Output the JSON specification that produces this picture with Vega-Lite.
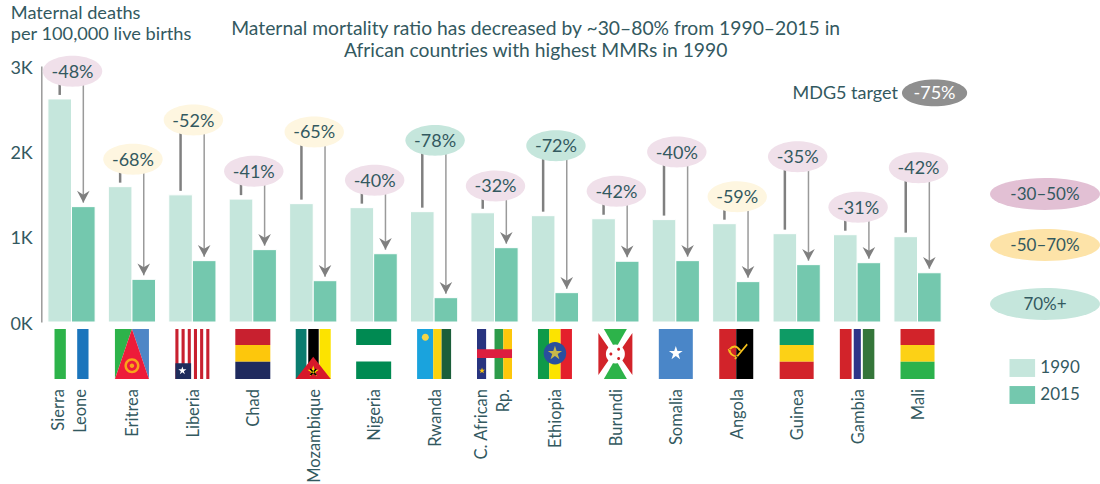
{"$schema":"https://vega.github.io/schema/vega-lite/v6.json","autosize":{"type":"none"},"padding":{"left":41.3,"top":66,"right":31.4,"bottom":162},"width":1027.3,"height":256,"background":"white","config":{"view":{"stroke":null},"font":"Lato","text":{"font":"Lato","color":"#33595f"}},"datasets":{"countries":[{"country":"Sierra Leone","line1":"Sierra","line2":"Leone","1990":2614,"2015":1352,"change":"-48%","tier":"30–50","bubble":2938},{"country":"Eritrea","label":"Eritrea","1990":1586,"2015":500,"change":"-68%","tier":"50–70","bubble":1907},{"country":"Liberia","label":"Liberia","1990":1490,"2015":719,"change":"-52%","tier":"50–70","bubble":2367},{"country":"Chad","label":"Chad","1990":1440,"2015":848,"change":"-41%","tier":"30–50","bubble":1766},{"country":"Mozambique","label":"Mozambique","1990":1387,"2015":484,"change":"-65%","tier":"50–70","bubble":2227},{"country":"Nigeria","label":"Nigeria","1990":1340,"2015":800,"change":"-40%","tier":"30–50","bubble":1661},{"country":"Rwanda","label":"Rwanda","1990":1293,"2015":285,"change":"-78%","tier":"70+","bubble":2129},{"country":"C. African Rp.","line1":"C. African","line2":"Rp.","1990":1280,"2015":871,"change":"-32%","tier":"30–50","bubble":1594},{"country":"Ethiopia","label":"Ethiopia","1990":1246,"2015":344,"change":"-72%","tier":"70+","bubble":2066},{"country":"Burundi","label":"Burundi","1990":1210,"2015":712,"change":"-42%","tier":"30–50","bubble":1532},{"country":"Somalia","label":"Somalia","1990":1200,"2015":719,"change":"-40%","tier":"30–50","bubble":1992},{"country":"Angola","label":"Angola","1990":1152,"2015":473,"change":"-59%","tier":"50–70","bubble":1468},{"country":"Guinea","label":"Guinea","1990":1035,"2015":672,"change":"-35%","tier":"30–50","bubble":1937},{"country":"Gambia","label":"Gambia","1990":1023,"2015":695,"change":"-31%","tier":"30–50","bubble":1344},{"country":"Mali","label":"Mali","1990":1000,"2015":577,"change":"-42%","tier":"30–50","bubble":1808}],"key":[{"slot":"key","name":"-30–50%","tier":"30–50","at":1500},{"slot":"key","name":"-50–70%","tier":"50–70","at":902},{"slot":"key","name":"70%+","tier":"70+","at":211}],"flags":[{"country":"Sierra Leone","part":"SL1"},{"country":"Sierra Leone","part":"SL2"},{"country":"Eritrea","part":"ER1"},{"country":"Eritrea","part":"ER2"},{"country":"Eritrea","part":"ER3"},{"country":"Eritrea","part":"ER4"},{"country":"Eritrea","part":"ER5"},{"country":"Eritrea","part":"ER6"},{"country":"Liberia","part":"LR1"},{"country":"Liberia","part":"LR2"},{"country":"Liberia","part":"LR3"},{"country":"Chad","part":"TD1"},{"country":"Chad","part":"TD2"},{"country":"Chad","part":"TD3"},{"country":"Mozambique","part":"MZ1"},{"country":"Mozambique","part":"MZ2"},{"country":"Mozambique","part":"MZ3"},{"country":"Mozambique","part":"MZ4"},{"country":"Mozambique","part":"MZ5"},{"country":"Mozambique","part":"MZ6"},{"country":"Nigeria","part":"NG1"},{"country":"Rwanda","part":"RW1"},{"country":"Rwanda","part":"RW2"},{"country":"Rwanda","part":"RW3"},{"country":"Rwanda","part":"RW4"},{"country":"C. African Rp.","part":"CF1"},{"country":"C. African Rp.","part":"CF2"},{"country":"C. African Rp.","part":"CF3"},{"country":"C. African Rp.","part":"CF4"},{"country":"C. African Rp.","part":"CF5"},{"country":"Ethiopia","part":"ET1"},{"country":"Ethiopia","part":"ET2"},{"country":"Ethiopia","part":"ET3"},{"country":"Ethiopia","part":"ET4"},{"country":"Ethiopia","part":"ET5"},{"country":"Burundi","part":"BI1"},{"country":"Burundi","part":"BI2"},{"country":"Burundi","part":"BI3"},{"country":"Burundi","part":"BI4"},{"country":"Burundi","part":"BI5"},{"country":"Somalia","part":"SO1"},{"country":"Somalia","part":"SO2"},{"country":"Angola","part":"AO1"},{"country":"Angola","part":"AO2"},{"country":"Angola","part":"AO3"},{"country":"Guinea","part":"GN1"},{"country":"Guinea","part":"GN2"},{"country":"Guinea","part":"GN3"},{"country":"Gambia","part":"GM1"},{"country":"Gambia","part":"GM2"},{"country":"Gambia","part":"GM3"},{"country":"Mali","part":"ML1"},{"country":"Mali","part":"ML2"},{"country":"Mali","part":"ML3"}]},"data":{"name":"countries"},"resolve":{"scale":{"color":"independent","shape":"independent"}},"encoding":{"x":{"field":"country","type":"nominal","axis":null,"sort":null,"scale":{"domain":["Sierra Leone","Eritrea","Liberia","Chad","Mozambique","Nigeria","Rwanda","C. African Rp.","Ethiopia","Burundi","Somalia","Angola","Guinea","Gambia","Mali","gap","key"],"paddingInner":0,"paddingOuter":0}}},"layer":[{"transform":[{"fold":["1990","2015"],"as":["year","deaths"]}],"mark":{"type":"bar","stroke":"white","strokeWidth":1},"encoding":{"xOffset":{"field":"year","type":"nominal","scale":{"domain":["1990","2015"],"paddingInner":0,"paddingOuter":0.28}},"y":{"field":"deaths","type":"quantitative","scale":{"domain":[0,3000],"nice":false},"axis":{"values":[0,1000,2000,3000],"labelExpr":"datum.value/1000+'K'","ticks":false,"grid":false,"domainColor":"#9a9a9a","domainWidth":1.5,"labelFontSize":18,"labelFont":"Lato","labelColor":"#33595f","labelPadding":9,"labelOffset":2,"title":["Maternal deaths","per 100,000 live births"],"titleFont":"Lato","titleFontWeight":"normal","titleFontSize":18.2,"titleColor":"#33595f","titleLineHeight":21,"titleAngle":0,"titleAlign":"left","titleBaseline":"middle","titleX":-31,"titleY":-53}},"color":{"field":"year","type":"nominal","scale":{"domain":["1990","2015"],"range":["#c5e6dc","#74c8ae"]},"legend":{"orient":"none","legendX":968,"legendY":289,"title":null,"symbolType":"M-1 -.7H1V.7H-1Z","symbolSize":655,"symbolStrokeWidth":0,"labelFont":"Lato","labelFontSize":17,"labelColor":"#33595f","labelOffset":5,"rowPadding":5}}}},{"mark":{"type":"rule","color":"#808080","strokeWidth":2.5,"yOffset":-4},"encoding":{"xOffset":{"datum":"1990","type":"nominal","scale":{"domain":["1990","2015"],"paddingInner":0,"paddingOuter":0.28}},"y":{"field":"1990","type":"quantitative"},"y2":{"field":"bubble"}}},{"mark":{"type":"rule","color":"#9a9a9a","strokeWidth":1.5,"yOffset":-4},"encoding":{"xOffset":{"datum":"2015","type":"nominal","scale":{"domain":["1990","2015"],"paddingInner":0,"paddingOuter":0.28}},"y":{"field":"2015","type":"quantitative"},"y2":{"field":"bubble"}}},{"mark":{"type":"point","filled":true,"opacity":1,"color":"#7f7f7f","size":159,"shape":"M0 -.63L-1 -2.5L0 -1.9L1 -2.5Z"},"encoding":{"xOffset":{"datum":"2015","type":"nominal","scale":{"domain":["1990","2015"],"paddingInner":0,"paddingOuter":0.28}},"y":{"field":"2015","type":"quantitative"}}},{"mark":{"type":"point","filled":true,"opacity":1,"size":3528,"shape":"M-1 0A1 .52 0 1 1 1 0A1 .52 0 1 1 -1 0Z","xOffset":1},"encoding":{"y":{"field":"bubble","type":"quantitative"},"color":{"field":"tier","type":"nominal","legend":null,"scale":{"domain":["30–50","50–70","70+"],"range":["#f0e0ea","#fef6e0","#c5e6dc"]}}}},{"mark":{"type":"text","fontSize":18,"xOffset":1,"dy":1.5},"encoding":{"y":{"field":"bubble","type":"quantitative"},"text":{"field":"change"}}},{"transform":[{"filter":"datum.label"}],"mark":{"type":"text","fontSize":16.5,"angle":270,"align":"right","baseline":"middle","xOffset":1.5},"encoding":{"y":{"datum":-785},"text":{"field":"label"}}},{"transform":[{"filter":"datum.line1"}],"mark":{"type":"text","fontSize":16.5,"angle":270,"align":"right","baseline":"middle","xOffset":-12.5},"encoding":{"y":{"datum":-785},"text":{"field":"line1"}}},{"transform":[{"filter":"datum.line2"}],"mark":{"type":"text","fontSize":16.5,"angle":270,"align":"right","baseline":"middle","xOffset":9.5},"encoding":{"y":{"datum":-785},"text":{"field":"line2"}}},{"data":{"name":"flags"},"mark":{"type":"point","filled":true,"opacity":1,"size":2500},"encoding":{"y":{"datum":-375},"shape":{"field":"part","type":"nominal","legend":null,"scale":{"domain":["SL1","SL2","ER1","ER2","ER3","ER4","ER5","ER6","LR1","LR2","LR3","TD1","TD2","TD3","MZ1","MZ2","MZ3","MZ4","MZ5","MZ6","NG1","RW1","RW2","RW3","RW4","CF1","CF2","CF3","CF4","CF5","ET1","ET2","ET3","ET4","ET5","BI1","BI2","BI3","BI4","BI5","SO1","SO2","AO1","AO2","AO3","GN1","GN2","GN3","GM1","GM2","GM3","ML1","ML2","ML3"],"range":["M-.68 -1H-.227V1H-.68Z","M.227 -1H.68V1H.227Z","M-.68 -1H0L-.68 1Z","M.68 -1H0L.68 1Z","M0 -1L.68 1H-.68Z","M-.3 .47A.3 .3 0 1 1 .3 .47A.3 .3 0 1 1 -.3 .47Z","M-.2 .47A.2 .2 0 1 1 .2 .47A.2 .2 0 1 1 -.2 .47Z","M-.09 .47A.09 .09 0 1 1 .09 .47A.09 .09 0 1 1 -.09 .47Z","M-.68 -1H-.556V1H-.68Z M-.433 -1H-.309V1H-.433Z M-.185 -1H-.062V1H-.185Z M.062 -1H.185V1H.062Z M.309 -1H.433V1H.309Z M.556 -1H.68V1H.556Z","M-.68 .37H-.05V1H-.68Z","M-.4 .497L-.362 .614L-.238 .614L-.338 .687L-.3 .805L-.4 .732L-.5 .805L-.462 .687L-.562 .614L-.438 .614Z","M-.7 -1H.7V-.36H-.7Z","M-.7 -.36H.7V.307H-.7Z","M-.7 .307H.7V1H-.7Z","M-.7 -1H-.27V1H-.7Z","M-.2 -1H.22V1H-.2Z","M.25 -1H.7V1H.25Z","M0 .107L.7 1H-.7Z","M0 .46L.054 .626L.228 .626L.087 .728L.141 .894L0 .792L-.141 .894L-.087 .728L-.228 .626L-.054 .626Z","M-.1 .58L.14 .82L.08 .86L-.14 .62Z M.1 .58L-.14 .82L-.08 .86L.14 .62Z","M-.7 -1H.7V-.36H-.7Z M-.7 .3H.7V1H-.7Z","M-.68 -1H-.035V1H-.68Z","M-.035 -1H.3V1H-.035Z","M.3 -1H.68V1H.3Z","M-.49 -.67A.14 .14 0 1 1 -.21 -.67A.14 .14 0 1 1 -.49 -.67Z","M-.7 -1H-.336V1H-.7Z","M0 -1H.35V1H0Z","M.35 -1H.7V1H.35Z","M-.7 -.187H.7V.16H-.7Z","M-.5 .537L-.471 .627L-.376 .627L-.453 .682L-.424 .772L-.5 .717L-.576 .772L-.547 .682L-.624 .627L-.529 .627Z","M-.68 -1H-.227V1H-.68Z","M-.227 -1H.227V1H-.227Z","M.227 -1H.68V1H.227Z","M-.45 -.03A.45 .45 0 1 1 .45 -.03A.45 .45 0 1 1 -.45 -.03Z","M0 -.33L.067 -.123L.285 -.123L.109 .004L.176 .212L0 .084L-.176 .212L-.109 .004L-.285 -.123L-.067 -.123Z","M-.68 -.84L-.1 0L-.68 .84Z M.68 -.84L.1 0L.68 .84Z","M-.46 -1H.46L0 -.2Z","M-.46 1H.46L0 .2Z","M-.38 0A.38 .38 0 1 1 .38 0A.38 .38 0 1 1 -.38 0Z","M-.24 0A.06 .06 0 1 1 -.12 0A.06 .06 0 1 1 -.24 0Z M.07 -.19A.06 .06 0 1 1 .19 -.19A.06 .06 0 1 1 .07 -.19Z M.07 .18A.06 .06 0 1 1 .19 .18A.06 .06 0 1 1 .07 .18Z","M-.68 -1H.68V1H-.68Z","M0 -.32L.065 -.12L.276 -.12L.105 .004L.171 .205L0 .081L-.171 .205L-.105 .004L-.276 -.12L-.065 -.12Z","M-.68 -1H0V1H-.68Z","M0 -1H.68V1H0Z","M-.34 -.2Q-.3 .1 .05 .14L.05 .08Q-.22 .04 -.24 -.2Z M-.3 -.2Q-.05 -.5 .2 -.15L.12 -.12Q-.05 -.38 -.25 -.15Z M-.08 .18L.42 -.42L.46 -.36L-.02 .22Z","M-.68 -1H.68V-.36H-.68Z","M-.68 -.36H.68V.31H-.68Z","M-.68 .31H.68V1H-.68Z","M-.69 -1H-.22V1H-.69Z","M-.135 -1H.15V1H-.135Z","M.23 -1H.69V1H.23Z","M-.68 -1H.68V-.36H-.68Z","M-.68 -.36H.68V.31H-.68Z","M-.68 .31H.68V1H-.68Z"]}},"color":{"field":"part","type":"nominal","legend":null,"scale":{"domain":["SL1","SL2","ER1","ER2","ER3","ER4","ER5","ER6","LR1","LR2","LR3","TD1","TD2","TD3","MZ1","MZ2","MZ3","MZ4","MZ5","MZ6","NG1","RW1","RW2","RW3","RW4","CF1","CF2","CF3","CF4","CF5","ET1","ET2","ET3","ET4","ET5","BI1","BI2","BI3","BI4","BI5","SO1","SO2","AO1","AO2","AO3","GN1","GN2","GN3","GM1","GM2","GM3","ML1","ML2","ML3"],"range":["#2db34a","#1b75bc","#2db34a","#4f86c6","#ed1c3a","#f9a51a","#ed1c3a","#f9a51a","#c8202f","#1e2c5c","#ffffff","#c8202f","#fdc70c","#1f2a5e","#0b7c6f","#000000","#fce300","#d7182a","#fce300","#000000","#008a52","#1aa3dd","#fbd20d","#1b5e3a","#f5d547","#28347f","#2d9c4a","#fdc70c","#dd1e3f","#fdc70c","#0f9a49","#fce300","#e4202c","#2a4f9e","#c9b84a","#d2232a","#2db34a","#2db34a","#ffffff","#d2232a","#4a86c8","#ffffff","#d2232a","#000000","#f6c21c","#0e9b65","#fcd116","#d2232a","#d2232a","#2d3588","#35763a","#d2232a","#fcd116","#2bb24c"]}}}},{"data":{"name":"key"},"mark":{"type":"point","filled":true,"opacity":1,"size":12100,"shape":"M-1 0A1 .29 0 1 1 1 0A1 .29 0 1 1 -1 0Z","xOffset":6.6},"encoding":{"x":{"field":"slot","type":"nominal"},"y":{"field":"at","type":"quantitative"},"color":{"field":"tier","type":"nominal","legend":null,"scale":{"domain":["30–50","50–70","70+"],"range":["#e2c0d4","#fde3a8","#c5e6dc"]}}}},{"data":{"name":"key"},"mark":{"type":"text","fontSize":17,"xOffset":6.6,"dy":1},"encoding":{"x":{"field":"slot","type":"nominal"},"y":{"field":"at","type":"quantitative"},"text":{"field":"name"}}},{"data":{"values":[{"slot":"gap","name":"-75%","label":"MDG5 target","at":2684}]},"mark":{"type":"point","filled":true,"opacity":1,"size":4251,"color":"#8f8f8f","shape":"M-1 0A1 .41 0 1 1 1 0A1 .41 0 1 1 -1 0Z","xOffset":-43.4},"encoding":{"x":{"field":"slot","type":"nominal"},"y":{"field":"at","type":"quantitative"}}},{"data":{"values":[{"slot":"gap","name":"-75%","label":"MDG5 target","at":2684}]},"mark":{"type":"text","fontSize":18,"color":"white","xOffset":-43.4,"dy":1.5},"encoding":{"x":{"field":"slot","type":"nominal"},"y":{"field":"at","type":"quantitative"},"text":{"field":"name"}}},{"data":{"values":[{"slot":"gap","name":"-75%","label":"MDG5 target","at":2684}]},"mark":{"type":"text","fontSize":18,"align":"right","xOffset":-80,"dy":1.5},"encoding":{"x":{"field":"slot","type":"nominal"},"y":{"field":"at","type":"quantitative"},"text":{"field":"label"}}},{"data":{"values":[{"slot":"Ethiopia","headline":"Maternal mortality ratio has decreased by ~30–80% from 1990–2015 in\nAfrican countries with highest MMRs in 1990","at":3428}]},"mark":{"type":"text","fontSize":19.3,"lineHeight":22,"lineBreak":"\n","xOffset":-19.3},"encoding":{"x":{"field":"slot","type":"nominal"},"y":{"field":"at","type":"quantitative"},"text":{"field":"headline"}}}]}
